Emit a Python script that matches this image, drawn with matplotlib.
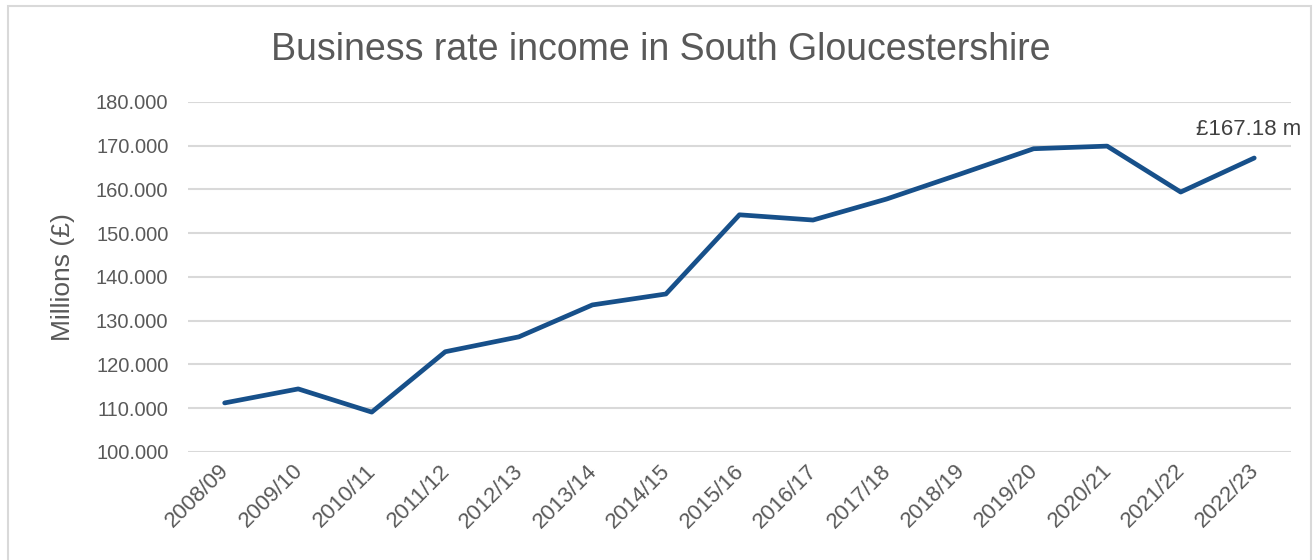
import matplotlib.pyplot as plt
from matplotlib.patches import Rectangle
from matplotlib.transforms import ScaledTranslation

# --- Data ---
years = ['2008/09', '2009/10', '2010/11', '2011/12', '2012/13', '2013/14',
         '2014/15', '2015/16', '2016/17', '2017/18', '2018/19', '2019/20',
         '2020/21', '2021/22', '2022/23']
income = [111.2, 114.4, 109.1, 122.9, 126.3, 133.6, 136.1, 154.2, 153.0,
          157.8, 163.5, 169.3, 169.9, 159.4, 167.18]
yticks = [100, 110, 120, 130, 140, 150, 160, 170, 180]

plt.rcParams['font.family'] = ['Liberation Sans', 'DejaVu Sans']
grey = '#595959'

fig = plt.figure(figsize=(13.14, 5.6), dpi=100)
ax = fig.add_axes([0.143, 0.193, 0.9825 - 0.143, 0.818 - 0.193])

x = list(range(len(years)))
ax.plot(x, income, color='#17508a', linewidth=3.4, solid_joinstyle='round',
        solid_capstyle='round', zorder=3)

ax.set_xlim(-0.5, len(years) - 0.5)
ax.set_ylim(100, 180)
ax.set_yticks(yticks)
ax.set_yticklabels([f'{v:.3f}' for v in yticks], fontsize=14.5, color=grey)
ax.set_xticks(x)
ax.set_xticklabels(years, rotation=45, ha='right', rotation_mode='anchor',
                   fontsize=16, color=grey)
ax.tick_params(axis='y', length=0, pad=14)
ax.tick_params(axis='x', length=0, pad=6)
# nudge the slanted year labels a little to the left
shift = ScaledTranslation(-6 / 100, 0, fig.dpi_scale_trans)
for lbl in ax.get_xticklabels():
    lbl.set_transform(lbl.get_transform() + shift)
ax.grid(axis='y', color='#d9d9d9', linewidth=1.5)
ax.set_axisbelow(True)
for s in ax.spines.values():
    s.set_visible(False)

ax.set_ylabel('Millions (£)', fontsize=19, color=grey)
ax.yaxis.set_label_coords(-0.102, 0.5)

# label on last point
ax.annotate(f'£{income[-1]:.2f} m', xy=(x[-1], income[-1]), xytext=(-4, 13),
            textcoords='offset points', ha='center', va='bottom',
            fontsize=16, color='#404040')

fig.text(0.503, 0.91, 'Business rate income in South Gloucestershire',
         ha='center', va='center', fontsize=27, color=grey)

# chart border
fig.patches.append(Rectangle((0.006, -0.01), 0.992, 0.999, transform=fig.transFigure,
                             fill=False, edgecolor='#d9d9d9', linewidth=1.5))

fig.savefig('out.png', dpi=100)
